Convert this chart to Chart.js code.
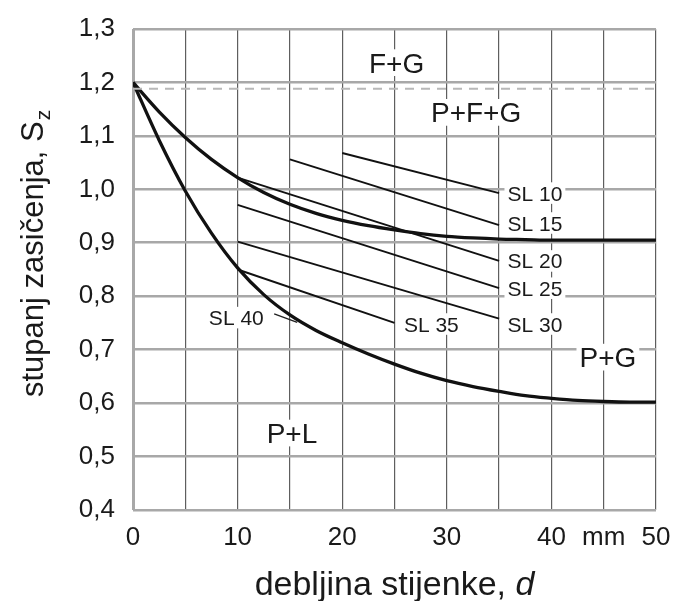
<!DOCTYPE html>
<html><head><meta charset="utf-8">
<script src="https://cdn.jsdelivr.net/npm/chart.js@4.4.1/dist/chart.umd.min.js"></script>
<style>html,body{margin:0;padding:0;background:#fff}canvas{display:block}</style>
</head><body>
<canvas id="c" width="673" height="601"></canvas>
<script>
// ---- data ----
const xTickValues = [0, 10, 20, 30, 40, 45, 50];
const xTickLabels = ['0', '10', '20', '30', '40', 'mm', '50'];
const yTickValues = [0.4, 0.5, 0.6, 0.7, 0.8, 0.9, 1.0, 1.1, 1.2, 1.3];
const yTickLabels = ['0,4', '0,5', '0,6', '0,7', '0,8', '0,9', '1,0', '1,1', '1,2', '1,3'];

const curveX = [0, 2.5, 5, 7.5, 10, 12.5, 15, 17.5, 20, 22.5, 25, 27.5, 30, 32.5, 35, 37.5, 40, 42.5, 45, 47.5, 50];
const upperY = [1.2, 1.145, 1.097, 1.056, 1.022, 0.994, 0.972, 0.955, 0.942, 0.932, 0.924, 0.917, 0.912, 0.909, 0.907, 0.906, 0.905, 0.905, 0.905, 0.905, 0.905];
const lowerY = [1.2, 1.092, 0.997, 0.918, 0.853, 0.803, 0.765, 0.736, 0.713, 0.692, 0.673, 0.656, 0.642, 0.631, 0.622, 0.614, 0.609, 0.605, 0.603, 0.602, 0.602];

const dashX = [0, 50];
const dashY = [1.188, 1.188];

const slNames  = ['SL 10', 'SL 15', 'SL 20', 'SL 25', 'SL 30', 'SL 35'];
const slStartX = [20, 15, 10, 10, 10, 10];
const slStartY = [1.068, 1.056, 1.022, 0.971, 0.902, 0.850];
const slEndX   = [35, 35, 35, 35, 35, 25];
const slEndY   = [0.993, 0.933, 0.866, 0.815, 0.758, 0.750];

const sl40X = [13.5, 15.7];
const sl40Y = [0.767, 0.751];

const slLabels  = ['SL 10', 'SL 15', 'SL 20', 'SL 25', 'SL 30', 'SL 35', 'SL 40'];
const slLabelX  = [35.8, 35.8, 35.8, 35.8, 35.8, 25.9, 12.5];
const slLabelY  = [0.993, 0.937, 0.866, 0.815, 0.748, 0.748, 0.760];
const slLabelAlign = ['left', 'left', 'left', 'left', 'left', 'left', 'right'];

const regionLabels = ['F+G', 'P+F+G', 'P+G', 'P+L'];
const regionX = [25.2, 32.8, 45.4, 15.2];
const regionY = [1.237, 1.144, 0.686, 0.544];

const xTitle = 'debljina stijenke, ';
const xTitleVar = 'd';
const yTitle = 'stupanj zasičenja, S';
const yTitleSub = 'z';

// ---- build datasets ----
const pts = (xs, ys) => xs.map((x, i) => ({x: x, y: ys[i]}));
const datasets = [];
datasets.push({label: 'dash', data: pts(dashX, dashY), borderColor: '#b8b8b8', borderWidth: 2, borderDash: [9, 7], pointRadius: 0, fill: false});
datasets.push({label: 'upper', data: pts(curveX, upperY), borderColor: '#111', borderWidth: 3.3, pointRadius: 0, cubicInterpolationMode: 'monotone', fill: false});
datasets.push({label: 'lower', data: pts(curveX, lowerY), borderColor: '#111', borderWidth: 3.3, pointRadius: 0, cubicInterpolationMode: 'monotone', fill: false});
slNames.forEach((n, i) => {
  datasets.push({label: n, data: [{x: slStartX[i], y: slStartY[i]}, {x: slEndX[i], y: slEndY[i]}], borderColor: '#111', borderWidth: 1.9, pointRadius: 0, fill: false});
});
datasets.push({label: 'SL 40', data: pts(sl40X, sl40Y), borderColor: '#222', borderWidth: 1.4, pointRadius: 0, fill: false});

const FONT = "'Liberation Sans', Arial, sans-serif";

const textPlugin = {
  id: 'texts',
  afterDatasetsDraw(chart) {
    const ctx = chart.ctx, xs = chart.scales.x, ys = chart.scales.y, ca = chart.chartArea;
    ctx.save();
    const drawBoxed = (txt, px, py, size, align) => {
      ctx.font = size + 'px ' + FONT;
      const w = ctx.measureText(txt).width;
      const cap = size * 0.74;
      let left = align === 'left' ? px : (align === 'right' ? px - w : px - w / 2);
      ctx.fillStyle = '#fff';
      ctx.fillRect(left - 3, py - cap / 2 - 3, w + 6, cap + 6);
      ctx.fillStyle = '#1a1a1a';
      ctx.textAlign = 'left';
      ctx.textBaseline = 'alphabetic';
      ctx.fillText(txt, left, py + size * 0.358);
    };
    regionLabels.forEach((t, i) => drawBoxed(t, xs.getPixelForValue(regionX[i]), ys.getPixelForValue(regionY[i]), 28, 'center'));
    slLabels.forEach((t, i) => drawBoxed(t, xs.getPixelForValue(slLabelX[i]), ys.getPixelForValue(slLabelY[i]), 21, slLabelAlign[i]));

    // x title
    ctx.fillStyle = '#1a1a1a';
    ctx.textBaseline = 'alphabetic';
    ctx.textAlign = 'left';
    ctx.font = '34px ' + FONT;
    const w1 = ctx.measureText(xTitle).width;
    ctx.font = 'italic 34px ' + FONT;
    const w2 = ctx.measureText(xTitleVar).width;
    const cx = (ca.left + ca.right) / 2;
    const by = ca.bottom + 85;
    ctx.font = '34px ' + FONT;
    ctx.fillText(xTitle, cx - (w1 + w2) / 2, by);
    ctx.font = 'italic 34px ' + FONT;
    ctx.fillText(xTitleVar, cx - (w1 + w2) / 2 + w1, by);

    // y title (rotated)
    ctx.font = '31px ' + FONT;
    const wm = ctx.measureText(yTitle).width;
    ctx.save();
    ctx.translate(43, ca.top + 368);
    ctx.rotate(-Math.PI / 2);
    ctx.fillText(yTitle, 0, 0);
    ctx.font = '21px ' + FONT;
    ctx.fillText(yTitleSub, wm + 1, 7);
    ctx.restore();
    ctx.restore();
  }
};

new Chart(document.getElementById('c'), {
  type: 'line',
  data: {datasets: datasets},
  options: {
    responsive: false,
    animation: false,
    devicePixelRatio: 1,
    layout: {padding: {top: 29, right: 17, left: 0, bottom: 0}},
    plugins: {legend: {display: false}, tooltip: {enabled: false}},
    elements: {line: {tension: 0}},
    scales: {
      x: {
        type: 'linear', min: 0, max: 50,
        afterFit(s) { s.height = 91; s.paddingLeft = 0; s.paddingRight = 0; s.paddingTop = 0; s.paddingBottom = 0; },
        border: {display: false},
        grid: {
          drawTicks: false,
          color: c => (c.tick && c.tick.value === 0) ? '#a8a8a8' : '#5e5e5e',
          lineWidth: c => (c.tick && c.tick.value === 0) ? 3 : 1.2
        },
        ticks: {
          stepSize: 5, autoSkip: false, maxRotation: 0, padding: 12,
          color: '#1a1a1a', font: {size: 26, family: FONT},
          callback: v => { const i = xTickValues.findIndex(t => Math.abs(t - v) < 1e-6); return i >= 0 ? xTickLabels[i] : ''; }
        },
        title: {display: false}
      },
      y: {
        type: 'linear', min: 0.4, max: 1.3,
        afterFit(s) { s.width = 133; s.paddingLeft = 0; s.paddingRight = 0; s.paddingTop = 0; s.paddingBottom = 0; },
        border: {display: false},
        grid: {drawTicks: false, color: '#a8a8a8', lineWidth: 2.6},
        ticks: {
          stepSize: 0.1, autoSkip: false, padding: 18,
          color: '#1a1a1a', font: {size: 26, family: FONT},
          callback: v => { const i = yTickValues.findIndex(t => Math.abs(t - v) < 1e-6); return i >= 0 ? yTickLabels[i] : ''; }
        },
        title: {display: false}
      }
    }
  },
  plugins: [textPlugin]
});
</script>
</body></html>
